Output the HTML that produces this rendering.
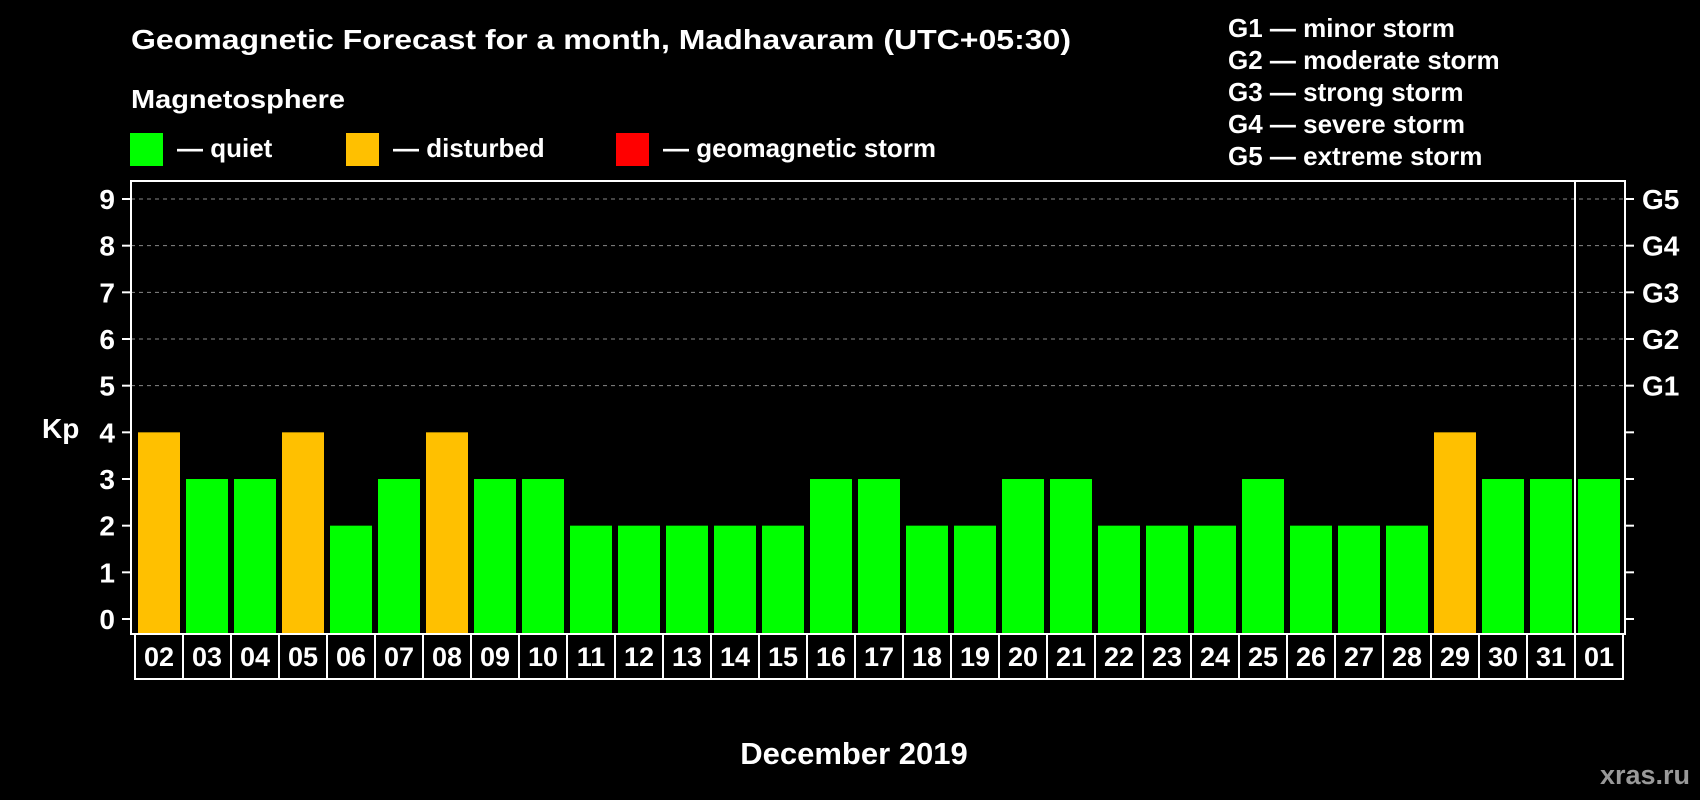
<!DOCTYPE html>
<html><head><meta charset="utf-8"><style>
html,body{margin:0;padding:0;background:#000;}
svg{display:block;font-family:"Liberation Sans",Arial,sans-serif;font-weight:bold;}
</style></head><body>
<svg id="chart" width="1700" height="800" viewBox="0 0 1700 800" xmlns="http://www.w3.org/2000/svg">
<rect width="1700" height="800" fill="#000"/>
<text x="131" y="49" fill="#fff" font-size="28" textLength="940" lengthAdjust="spacingAndGlyphs">Geomagnetic Forecast for a month, Madhavaram (UTC+05:30)</text>
<text x="131" y="108" fill="#fff" font-size="26" textLength="214" lengthAdjust="spacingAndGlyphs">Magnetosphere</text>
<g><rect x="130" y="133" width="33" height="33" fill="#00ff00"/><text x="177" y="157" fill="#fff" font-size="26">— quiet</text></g>
<g><rect x="346" y="133" width="33" height="33" fill="#ffc000"/><text x="393" y="157" fill="#fff" font-size="26">— disturbed</text></g>
<g><rect x="616" y="133" width="33" height="33" fill="#ff0000"/><text x="663" y="157" fill="#fff" font-size="26">— geomagnetic storm</text></g>
<g fill="#fff" font-size="26">
<text x="1228" y="37">G1 — minor storm</text>
<text x="1228" y="69">G2 — moderate storm</text>
<text x="1228" y="101">G3 — strong storm</text>
<text x="1228" y="133">G4 — severe storm</text>
<text x="1228" y="165">G5 — extreme storm</text>
</g>
<text x="42" y="438" fill="#fff" font-size="28">Kp</text>
<text x="854" y="764" fill="#fff" font-size="31" text-anchor="middle">December 2019</text>
<text x="1690" y="784" fill="#999" font-size="27" text-anchor="end">xras.ru</text>
<g id="plot"></g>
</svg>
<script>
const categories=["02","03","04","05","06","07","08","09","10","11","12","13","14","15","16","17","18","19","20","21","22","23","24","25","26","27","28","29","30","31","01"];
const kpValues=[4,3,3,4,2,3,4,3,3,2,2,2,2,2,3,3,2,2,3,3,2,2,2,3,2,2,2,4,3,3,3];
const yTicks=[0,1,2,3,4,5,6,7,8,9];
const gLabels=["G1","G2","G3","G4","G5"];
const gLevels=[5,6,7,8,9];
const NS="http://www.w3.org/2000/svg";
const L=131,R=1625,T=181,B=634;
function yS(v){return 619-v*(420/9);}
function xS(i){return 135+i*48;}
const g=document.getElementById('plot');
function mk(t,a){const e=document.createElementNS(NS,t);for(const k in a)e.setAttribute(k,a[k]);g.appendChild(e);return e;}
yTicks.forEach(v=>{
  const y=yS(v);
  if(v>=5){const gl=mk('line',{x1:L,x2:R,y1:y,y2:y,stroke:'#888','stroke-width':1,'stroke-dasharray':'4,4'});
  
  }
  const t1=mk('line',{x1:122,x2:L,y1:y,y2:y,stroke:'#fff','stroke-width':2});
  
  
  const t2=mk('line',{x1:R,x2:1634,y1:y,y2:y,stroke:'#fff','stroke-width':2});
  
  
  const tx=mk('text',{x:115,y:y+10,fill:'#fff','font-size':28,'text-anchor':'end'});tx.textContent=v;
  
  
});
gLevels.forEach((v,i)=>{
  const tx=mk('text',{x:1642,y:yS(v)+10,fill:'#fff','font-size':28});tx.textContent=gLabels[i];
  
  
});
kpValues.forEach((v,i)=>{
  const col=v>=5?'#ff0000':(v>=4?'#ffc000':'#00ff00');
  const b=mk('rect',{x:xS(i)+3,y:yS(v),width:42,height:B-yS(v)-1,fill:col});
  
  
});
const frame=mk('rect',{x:L,y:T,width:R-L,height:B-T,fill:'none',stroke:'#fff','stroke-width':2});


const div=mk('line',{x1:1575,x2:1575,y1:T,y2:B,stroke:'#fff','stroke-width':2});


categories.forEach((c,i)=>{
  const cell=mk('rect',{x:xS(i),y:634,width:48,height:45,fill:'none',stroke:'#fff','stroke-width':2});
  
  
  const tx=mk('text',{x:xS(i)+24,y:666,fill:'#fff','font-size':27,'text-anchor':'middle'});tx.textContent=c;
  
  
});
</script>
</body></html>
